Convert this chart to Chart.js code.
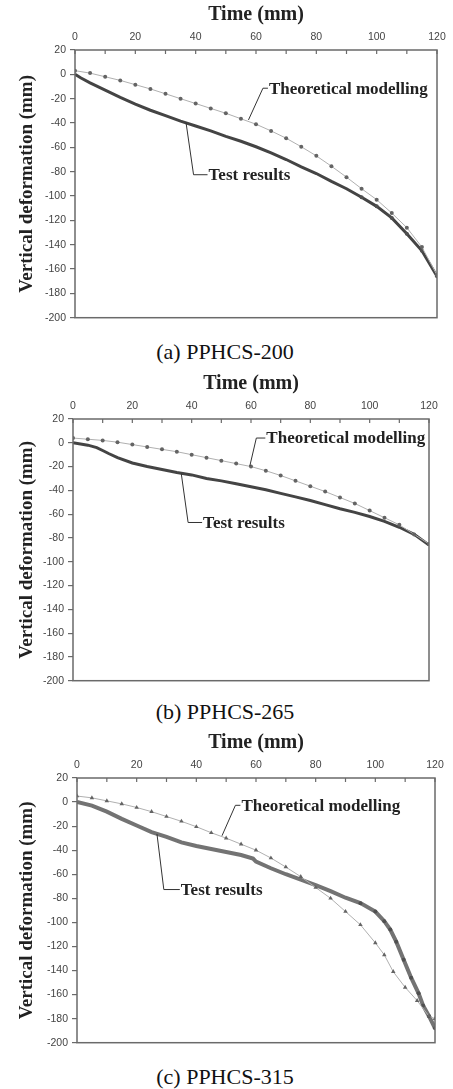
<!DOCTYPE html>
<html>
<head>
<meta charset="utf-8">
<script src="https://cdn.jsdelivr.net/npm/chart.js@4.4.1/dist/chart.umd.min.js"></script>
<style>
body { margin: 0; background: #fff; width: 453px; height: 1089px; position: relative; overflow: hidden; }
canvas { position: absolute; left: 0; }
.caption { position: absolute; left: 0; width: 450px; text-align: center; font-family: "Liberation Serif", "Times New Roman", serif; font-size: 22px; line-height: 24px; color: #111; }
</style>
</head>
<body>
<canvas id="chartA"></canvas>
<div class="caption" style="top:340px">(a) PPHCS-200</div>
<canvas id="chartB"></canvas>
<div class="caption" style="top:700px">(b) PPHCS-265</div>
<canvas id="chartC"></canvas>
<div class="caption" style="top:1065px">(c) PPHCS-315</div>
<script>
const timeTicks = [0, 20, 40, 60, 80, 100, 120];
const minorTimeTicks = [0, 10, 20, 30, 40, 50, 60, 70, 80, 90, 100, 110, 120];
const deformTicks = [20, 0, -20, -40, -60, -80, -100, -120, -140, -160, -180, -200];

// (a) PPHCS-200
const theoTime200 = [0, 5, 10, 15, 20, 25, 30, 35, 40, 45, 50, 55, 60, 65, 70, 75, 80, 85, 90, 95, 100, 105, 110, 115, 120];
const theoDef200 = [3, 1, -2, -5, -8.5, -12, -16, -20, -24, -28, -32, -36.5, -41, -46.5, -52.5, -59.5, -67, -75.5, -84.5, -94, -103, -114, -126, -142, -165];
const testTime200 = [0, 2, 5, 10, 15, 20, 25, 30, 35, 40, 45, 50, 55, 60, 65, 70, 75, 80, 85, 90, 95, 100, 105, 110, 115, 120];
const testDef200 = [0, -3, -7, -13, -19, -24.5, -29.5, -34, -38.5, -42.5, -46.5, -51, -55, -59.5, -64.5, -70, -76, -81.5, -88, -94, -101, -108.5, -118, -131, -145, -166];

// (b) PPHCS-265
const theoTime265 = [0, 5, 10, 15, 20, 25, 30, 35, 40, 45, 50, 55, 60, 65, 70, 75, 80, 85, 90, 95, 100, 105, 110, 115, 120];
const theoDef265 = [4, 3, 2, 0.5, -1.5, -3.5, -5.5, -7.5, -10, -12.5, -15, -17.5, -20, -23.5, -27.5, -32, -36.5, -41, -46, -51, -57, -63, -69, -77, -85];
const testTime265 = [0, 5, 8, 10, 12, 15, 20, 25, 30, 35, 40, 45, 50, 55, 60, 65, 70, 75, 80, 85, 90, 95, 100, 105, 110, 115, 120];
const testDef265 = [0, -2, -4, -6.5, -9, -12.5, -17, -20, -22.5, -25, -27, -30, -32, -34.5, -37, -39.5, -42.5, -45.5, -48.5, -52, -55.5, -58.5, -62, -66, -71, -77, -86];

// (c) PPHCS-315
const theoTime315 = [0, 5, 10, 15, 20, 25, 30, 35, 40, 45, 50, 55, 60, 65, 70, 75, 80, 85, 90, 95, 100, 103, 106, 110, 114, 118, 120];
const theoDef315 = [5, 3.5, 1, -1.5, -4.5, -8, -12, -16, -20.5, -25.5, -30, -35, -40, -46.5, -54, -62, -71, -80, -91, -102, -117, -127, -141, -154, -165, -178, -180];
const testTime315 = [0, 5, 10, 15, 20, 25, 30, 35, 40, 45, 50, 55, 59, 60, 65, 70, 75, 80, 85, 90, 95, 100, 103, 105, 107, 109.5, 112, 114.5, 116, 118, 120];
const testDef315 = [0, -3, -8, -14, -19.5, -25, -29, -33.5, -36.5, -39, -41.5, -44, -47, -49.5, -55, -60, -64.5, -69, -74, -79.5, -84, -91, -99, -106, -116, -131, -146, -159, -169, -178, -188];

const pts = (xs, ys) => xs.map((x, i) => ({ x: x, y: ys[i] }));

const serif = '"Liberation Serif", "Times New Roman", serif';
const sans = '"Liberation Sans", Arial, sans-serif';

// frame, inward ticks on the time axis and the leader-line labels
const framePlugin = {
    id: 'frame',
    afterDraw(chart, args, opts) {
        const { ctx, chartArea: a, scales: { x, y } } = chart;
        ctx.save();
        ctx.strokeStyle = '#6a6a6a';
        ctx.lineWidth = 1.5;
        ctx.strokeRect(a.left, a.top, a.width, a.height);
        ctx.lineWidth = 1.2;
        minorTimeTicks.forEach(v => {
            const px = x.getPixelForValue(v);
            ctx.beginPath();
            ctx.moveTo(px, a.top);
            ctx.lineTo(px, a.top + 4);
            ctx.stroke();
        });
        ctx.strokeStyle = '#333';
        ctx.lineWidth = 1;
        ctx.fillStyle = '#222';
        ctx.font = 'bold 17px ' + serif;
        ctx.textBaseline = 'middle';
        opts.notes.forEach(n => {
            const x0 = x.getPixelForValue(n.from[0]), y0 = y.getPixelForValue(n.from[1]);
            const x1 = x.getPixelForValue(n.corner[0]), y1 = y.getPixelForValue(n.corner[1]);
            ctx.beginPath();
            ctx.moveTo(x0, y0);
            ctx.lineTo(x1, y1);
            ctx.lineTo(x1 + n.gap, y1);
            ctx.stroke();
            ctx.fillText(n.text, x1 + n.gap + 1, y1 + 1);
        });
        ctx.restore();
    }
};

function makeChart(id, box, theo, test, notes, style) {
    const canvas = document.getElementById(id);
    canvas.width = 453;
    canvas.height = box.bottom - box.top + 60;
    canvas.style.top = (box.top - 50) + 'px';
    return new Chart(canvas, {
        type: 'scatter',
        data: {
            datasets: [
                {
                    label: 'Theoretical modelling',
                    data: theo,
                    showLine: true,
                    borderColor: '#b0b0b0',
                    borderWidth: 1,
                    pointStyle: style.theoMarker,
                    pointRadius: style.theoRadius,
                    pointBackgroundColor: '#646464',
                    pointBorderWidth: 0
                },
                {
                    label: 'Test results',
                    data: test,
                    showLine: true,
                    borderColor: style.testColor,
                    borderWidth: style.testWidth,
                    pointRadius: c => (c.raw && c.raw.x >= style.dotsFrom ? 2 : 0),
                    pointBackgroundColor: '#505050',
                    pointBorderWidth: 0
                }
            ]
        },
        options: {
            responsive: false,
            animation: false,
            devicePixelRatio: 1,
            layout: { padding: { left: 0, top: 0, right: 453 - box.right, bottom: 10 } },
            plugins: {
                legend: { display: false },
                tooltip: { enabled: false },
                frame: { notes: notes }
            },
            scales: {
                x: {
                    type: 'linear',
                    position: 'top',
                    min: 0,
                    max: 120,
                    afterBuildTicks: s => { s.ticks = timeTicks.map(v => ({ value: v })); },
                    afterFit: s => { s.height = 50; },
                    grid: { display: false, drawTicks: false },
                    border: { display: false },
                    ticks: { padding: 7, maxRotation: 0, color: '#444', font: { family: sans, size: 10.5 } },
                    title: { display: true, text: 'Time (mm)', color: '#222', font: { family: serif, size: 20, weight: 'bold' }, padding: { top: 3, bottom: 0 } }
                },
                y: {
                    type: 'linear',
                    min: -200,
                    max: 20,
                    afterBuildTicks: s => { s.ticks = deformTicks.map(v => ({ value: v })); },
                    afterFit: s => { s.width = box.left; },
                    grid: { drawOnChartArea: false, drawTicks: true, tickLength: 5, color: '#6a6a6a', lineWidth: 1.2 },
                    border: { display: false },
                    ticks: { padding: 4, color: '#444', font: { family: sans, size: 10.5 } },
                    title: { display: true, text: 'Vertical deformation (mm)', color: '#222', font: { family: serif, size: 19, weight: 'bold' }, padding: { top: 16, bottom: 0 } }
                }
            }
        },
        plugins: [framePlugin]
    });
}

makeChart('chartA', { left: 75, right: 437, top: 50, bottom: 318 },
    pts(theoTime200, theoDef200), pts(testTime200, testDef200),
    [
        { text: 'Theoretical modelling', from: [57.5, -37.5], corner: [62.3, -11.4], gap: 5 },
        { text: 'Test results', from: [36.8, -39.5], corner: [39.3, -82.5], gap: 14 }
    ],
    { theoMarker: 'circle', theoRadius: 2, testColor: '#444', testWidth: 3, dotsFrom: 92 });

makeChart('chartB', { left: 73, right: 429, top: 419, bottom: 681 },
    pts(theoTime265, theoDef265), pts(testTime265, testDef265),
    [
        { text: 'Theoretical modelling', from: [59.6, -19.5], corner: [61.8, 4], gap: 9 },
        { text: 'Test results', from: [36.5, -26], corner: [38.8, -67], gap: 14 }
    ],
    { theoMarker: 'circle', theoRadius: 2, testColor: '#444', testWidth: 3, dotsFrom: 999 });

makeChart('chartC', { left: 77, right: 435, top: 778, bottom: 1043 },
    pts(theoTime315, theoDef315), pts(testTime315, testDef315),
    [
        { text: 'Theoretical modelling', from: [48.6, -28], corner: [53.1, -2.7], gap: 5 },
        { text: 'Test results', from: [26.8, -26.5], corner: [29.1, -72.7], gap: 16 }
    ],
    { theoMarker: 'triangle', theoRadius: 2.6, testColor: '#737373', testWidth: 4, dotsFrom: 95 });
</script>
</body>
</html>
